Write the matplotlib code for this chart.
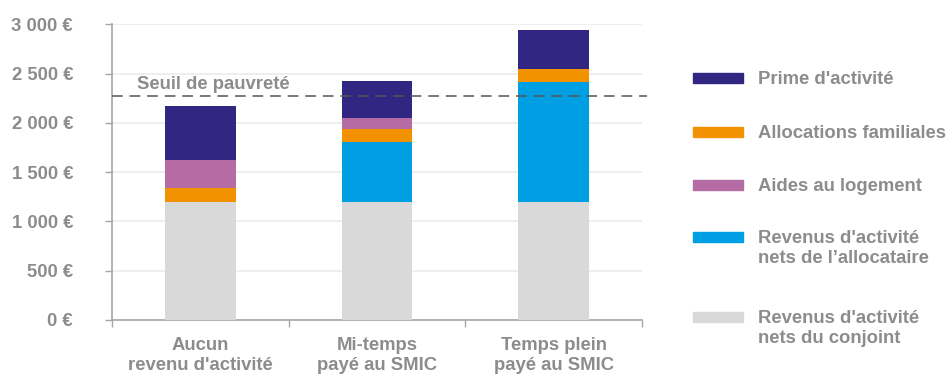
import matplotlib
matplotlib.use("Agg")
import matplotlib.pyplot as plt
from matplotlib.patches import Rectangle
import numpy as np

plt.rcParams['font.family'] = ['Liberation Sans', 'DejaVu Sans']

categories = ["Aucun\nrevenu d'activité", "Mi-temps\npayé au SMIC", "Temps plein\npayé au SMIC"]
revenus_conjoint = [1200, 1200, 1200]
revenus_allocataire = [0, 610, 1210]
allocations_familiales = [135, 130, 135]
aides_logement = [285, 110, 0]
prime_activite = [550, 375, 400]
seuil_pauvrete = 2270

series = [
    ("Revenus d'activité\nnets du conjoint", revenus_conjoint, "#d9d9d9"),
    ("Revenus d'activité\nnets de l’allocataire", revenus_allocataire, "#009fe3"),
    ("Allocations familiales", allocations_familiales, "#f39200"),
    ("Aides au logement", aides_logement, "#b56ba4"),
    ("Prime d'activité", prime_activite, "#312783"),
]

text_color = "#8c8c8c"
fs = 13.3
fig = plt.figure(figsize=(9.49, 3.74), dpi=100)
ax = fig.add_axes([112 / 949, 1 - 320 / 374, 530 / 949, (320 - 24.3) / 374])

x = np.arange(len(categories))
bottom = np.zeros(len(categories))
for label, vals, color in series:
    vals = np.array(vals, dtype=float)
    ax.bar(x, vals, width=0.4, bottom=bottom, color=color, zorder=3)
    bottom += vals

ax.set_xlim(-0.5, len(categories) - 0.5)
ax.set_ylim(0, 3000)
ax.set_yticks(np.arange(0, 3001, 500))
ax.set_yticklabels([f"{v:,}".replace(",", " ") + " €" for v in range(0, 3001, 500)])
ax.yaxis.grid(True, color="#ebebeb", linewidth=1.2, zorder=0)
ax.set_axisbelow(True)

ax.set_xticks(x)
ax.set_xticklabels(categories)
ax.set_xticks(np.arange(-0.5, len(categories) - 0.4, 1), minor=True)
ax.tick_params(axis="x", which="major", length=0, pad=12, labelsize=fs, labelcolor=text_color)
ax.tick_params(axis="x", which="minor", length=5, color="#a6a6a6", width=1)
ax.tick_params(axis="y", length=5, color="#a6a6a6", width=1, pad=23, labelsize=fs, labelcolor=text_color)
for lbl in ax.get_xticklabels() + ax.get_yticklabels():
    lbl.set_fontweight("bold")
for lbl in ax.get_xticklabels():
    lbl.set_linespacing(1.25)

for side in ("top", "right"):
    ax.spines[side].set_visible(False)
for side in ("left", "bottom"):
    ax.spines[side].set_color("#a6a6a6")
    ax.spines[side].set_linewidth(1.2)

ax.axhline(seuil_pauvrete, xmin=0, xmax=1.01, color="#555555", linestyle=(0, (7, 4.5)),
           linewidth=1.1, zorder=4, clip_on=False)
ax.text(-0.36, seuil_pauvrete + 30, "Seuil de pauvreté", color=text_color, fontsize=fs,
        fontweight="bold", ha="left", va="bottom")

# Legend drawn on the right, top entry first
legend_rows = [
    ("Prime d'activité", "#312783", 78),
    ("Allocations familiales", "#f39200", 132),
    ("Aides au logement", "#b56ba4", 185),
    ("Revenus d'activité\nnets de l’allocataire", "#009fe3", 237),
    ("Revenus d'activité\nnets du conjoint", "#d9d9d9", 317),
]
for text, color, ypix in legend_rows:
    fig.patches.append(Rectangle((693 / 949, 1 - (ypix + 5) / 374), 50 / 949, 10 / 374,
                                 transform=fig.transFigure, color=color))
    fig.text(758 / 949, 1 - (ypix - 7) / 374, text, color=text_color, fontsize=fs,
             fontweight="bold", ha="left", va="top", linespacing=1.2)

fig.savefig("out.png", dpi=100)
